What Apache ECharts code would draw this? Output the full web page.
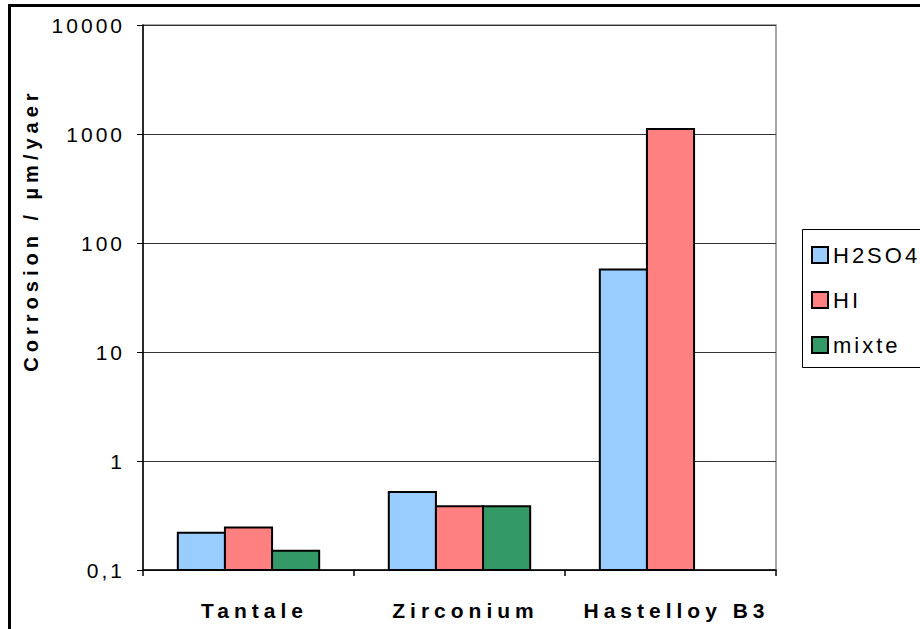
<!DOCTYPE html>
<html>
<head>
<meta charset="utf-8">
<script src="https://cdn.jsdelivr.net/npm/echarts@6/dist/echarts.min.js"></script>
<style>
  html, body { margin: 0; padding: 0; background: #fff; }
  #chart { width: 920px; height: 629px; }
  /* wide character spacing, as in the original Excel rendering */
  #chart text { letter-spacing: 3px; }
  #chart text[style*="bold"] { letter-spacing: 5px; }
</style>
</head>
<body>
<div id="chart"></div>
<script>
// Corrosion rates (µm/year) of three alloys in three acid media
const categories = ['Tantale', 'Zirconium', 'Hastelloy B3'];
const seriesNames = ['H2SO4', 'HI', 'mixte'];
const h2so4 = [0.22, 0.52, 57];
const hi = [0.245, 0.385, 1110];
const mixte = [0.15, 0.385, null];
const yTickLabels = { 0.1: '0,1', 1: '1', 10: '10', 100: '100', 1000: '1000', 10000: '10000' };
const colors = ['#99CCFF', '#FF8080', '#339966'];

const FONT = '"Liberation Sans", Arial, sans-serif';
const Y_MIN = 0.1;
const CATEGORY_GAP = 0.33;
const chart = echarts.init(document.getElementById('chart'), null, { renderer: 'svg' });

const values = [h2so4, hi, mixte];

// Bars rise from the bottom of the log axis (0,1), not from 1,
// so each one is drawn as a custom rect placed through the axis scales.
function barRenderer(seriesIndex) {
  return function (params, api) {
    const cat = api.value(0);
    const val = api.value(1);
    if (val == null || isNaN(val)) return null;
    const band = api.size([1, 0])[0];
    const groupW = band * (1 - CATEGORY_GAP);
    const barW = groupW / seriesNames.length;
    const topPt = api.coord([cat, val]);
    const basePt = api.coord([cat, Y_MIN]);
    const x = topPt[0] - groupW / 2 + seriesIndex * barW;
    return {
      type: 'rect',
      shape: { x: x, y: topPt[1], width: barW, height: basePt[1] - topPt[1] },
      style: api.style({ fill: colors[seriesIndex], stroke: '#000', lineWidth: 2 })
    };
  };
}

chart.setOption({
  animation: false,
  backgroundColor: '#fff',
  grid: {
    left: 143, right: 144, top: 25, bottom: 59,
    show: true, borderColor: '#8c8c8c', borderWidth: 1.5, backgroundColor: 'transparent'
  },
  xAxis: {
    type: 'category',
    data: categories,
    boundaryGap: true,
    axisLine: { lineStyle: { color: '#000', width: 1.5 } },
    axisTick: { show: true, length: 6, lineStyle: { color: '#000', width: 1.5 } },
    axisLabel: {
      color: '#000', fontFamily: FONT, fontSize: 21, fontWeight: 'bold', margin: 30,
      padding: [0, 0, 0, 12]
    }
  },
  yAxis: {
    type: 'log',
    logBase: 10,
    min: Y_MIN,
    max: 10000,
    axisLine: { show: true, lineStyle: { color: '#000', width: 1.5 } },
    axisTick: { show: true, length: 6, lineStyle: { color: '#000', width: 1 } },
    splitLine: { lineStyle: { color: '#333', width: 1 } },
    axisLabel: {
      color: '#000', fontFamily: FONT, fontSize: 21, margin: 18,
      formatter: v => yTickLabels[v] !== undefined ? yTickLabels[v] : String(v)
    }
  },
  legend: {
    orient: 'vertical',
    left: 806, top: 239,
    itemWidth: 16, itemHeight: 16, itemGap: 23,
    icon: 'rect',
    itemStyle: { borderColor: '#000', borderWidth: 2 },
    textStyle: { color: '#000', fontFamily: FONT, fontSize: 22 },
    data: seriesNames
  },
  series: seriesNames.map((name, i) => ({
    name,
    type: 'custom',
    renderItem: barRenderer(i),
    encode: { x: 0, y: 1 },
    itemStyle: { color: colors[i], borderColor: '#000', borderWidth: 2 },
    data: categories.map((c, k) => [k, values[i][k]])
  })),
  graphic: [
    {
      type: 'rect', silent: true, z: 100,
      shape: { x: 9.5, y: 5.5, width: 1000, height: 1000 },
      style: { fill: 'none', stroke: '#000', lineWidth: 3 }
    },
    {
      type: 'rect', silent: true,
      shape: { x: 802.5, y: 229.5, width: 200, height: 138 },
      style: { fill: 'none', stroke: '#000', lineWidth: 1 }
    },
    {
      type: 'text',
      x: 31, y: 230,
      rotation: Math.PI / 2,
      style: {
        text: 'Corrosion / µm/yaer',
        fontFamily: FONT, fontSize: 20, fontWeight: 'bold', fill: '#000',
        textAlign: 'center', textVerticalAlign: 'middle'
      }
    }
  ]
});
</script>
</body>
</html>
